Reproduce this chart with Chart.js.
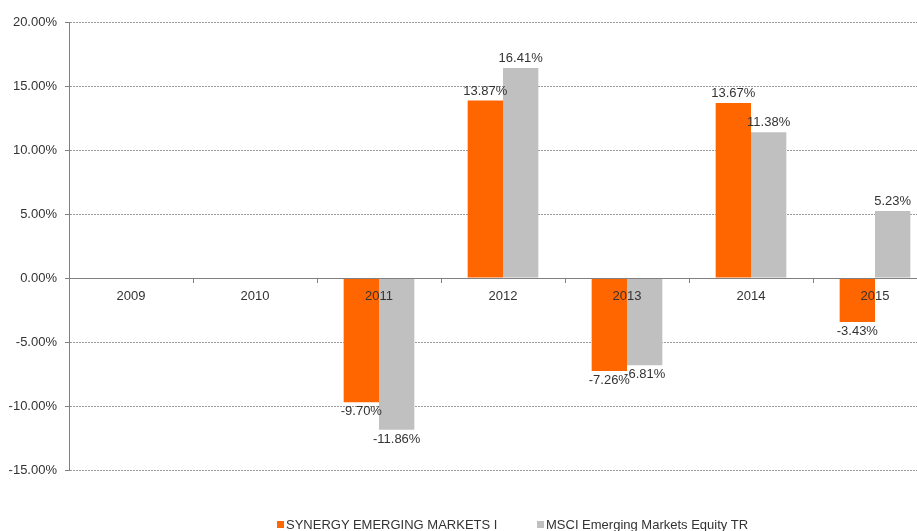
<!DOCTYPE html>
<html>
<head>
<meta charset="utf-8">
<script src="https://cdn.jsdelivr.net/npm/chart.js@4/dist/chart.umd.min.js"></script>
<style>
  html, body { margin: 0; padding: 0; background: #fff; overflow: hidden; width: 917px; height: 531px; }
  #wrap { position: relative; width: 937px; height: 531px; }
  #legend span.item { position: absolute; top: 517px; font: 13px "Liberation Sans", Arial, sans-serif; color: #333; white-space: nowrap; line-height: 15px; }
  #legend i { display: inline-block; width: 7px; height: 7px; margin-right: 2px; vertical-align: 1px; }
</style>
</head>
<body>
<div id="wrap">
  <canvas id="chart" width="937" height="531"></canvas>
  <div id="legend"></div>
</div>
<script>
const years = ["2009", "2010", "2011", "2012", "2013", "2014", "2015"];
const synergy = [null, null, -9.70, 13.87, -7.26, 13.67, -3.43];
const msci = [null, null, -11.86, 16.41, -6.81, 11.38, 5.23];
const seriesNames = ["SYNERGY EMERGING MARKETS I", "MSCI Emerging Markets Equity TR"];
const seriesColors = ["#FF6600", "#C0C0C0"];

const FONT = "'Liberation Sans', Arial, sans-serif";

// value labels above / below each bar
const barLabels = {
  id: "barLabels",
  afterDatasetsDraw(chart) {
    const ctx = chart.ctx;
    ctx.save();
    ctx.font = "13px " + FONT;
    ctx.fillStyle = "#333";
    ctx.textAlign = "center";
    chart.data.datasets.forEach((ds, i) => {
      chart.getDatasetMeta(i).data.forEach((el, j) => {
        const v = ds.data[j];
        if (v === null) return;
        const txt = v.toFixed(2) + "%";
        if (v >= 0) {
          ctx.textBaseline = "bottom";
          ctx.fillText(txt, el.x, el.y - 3);
        } else {
          ctx.textBaseline = "top";
          ctx.fillText(txt, el.x, el.y + 3);
        }
      });
    });
    ctx.restore();
  }
};

new Chart(document.getElementById("chart"), {
  type: "bar",
  data: {
    labels: years,
    datasets: [
      { label: seriesNames[0], data: synergy, backgroundColor: seriesColors[0] },
      { label: seriesNames[1], data: msci, backgroundColor: seriesColors[1] }
    ]
  },
  options: {
    responsive: false,
    animation: false,
    layout: { padding: { top: 22, bottom: 61, left: 0, right: 0 } },
    datasets: { bar: { barPercentage: 1, categoryPercentage: 0.57 } },
    scales: {
      x: {
        position: { y: 0 },
        grid: { offset: true, drawOnChartArea: false, tickLength: 4, color: "#808080", z: 1 },
        border: { color: "#808080", width: 1, z: 1 },
        ticks: { color: "#333", font: { family: FONT, size: 13 }, padding: 7, z: 1 }
      },
      y: {
        min: -15,
        max: 20,
        afterFit(scale) { scale.width = 69; },
        ticks: {
          stepSize: 5,
          padding: 8,
          color: "#333",
          font: { family: FONT, size: 13 },
          callback: v => v.toFixed(2) + "%"
        },
        grid: { color: "#9a9a9a", lineWidth: 1, tickLength: 4, tickColor: "#808080" },
        border: { color: "#808080", width: 1, dash: [2, 1] }
      }
    },
    plugins: {
      legend: { display: false },
      tooltip: { enabled: false }
    }
  },
  plugins: [barLabels]
});

const legendLeft = [277, 537];
document.getElementById("legend").innerHTML = seriesNames.map((n, i) =>
  `<span class="item" style="left:${legendLeft[i]}px"><i style="background:${seriesColors[i]}"></i>${n}</span>`
).join("");
</script>
</body>
</html>
